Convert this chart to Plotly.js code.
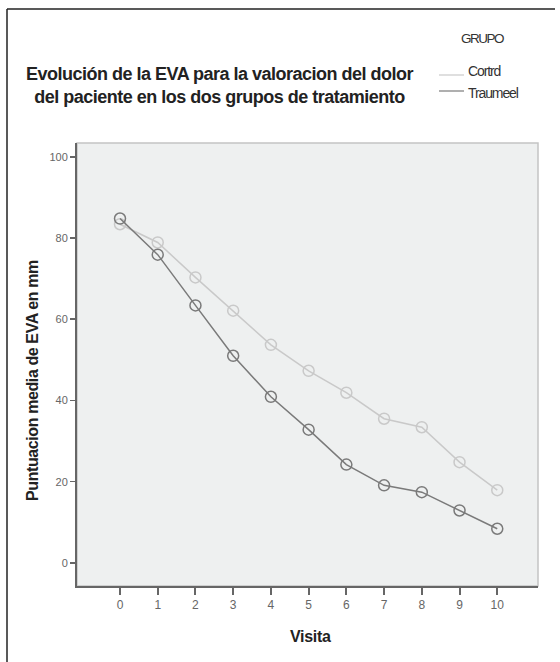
<!DOCTYPE html>
<html>
<head>
<meta charset="utf-8">
<script src="https://cdn.plot.ly/plotly-3.0.1.min.js"></script>
<style>
html,body{margin:0;padding:0;background:#fff;}
#chart{width:560px;height:662px;}
</style>
</head>
<body>
<div id="chart"></div>
<script>
// Data
var visits = [0, 1, 2, 3, 4, 5, 6, 7, 8, 9, 10];
var controlValues = [83.4, 78.9, 70.3, 62.1, 53.7, 47.3, 41.9, 35.5, 33.4, 24.8, 17.9];
var traumeelValues = [84.8, 75.9, 63.4, 51.0, 40.9, 32.8, 24.2, 19.1, 17.4, 12.9, 8.4];
var groupNames = ["Cortrd", "Traumeel"];
var xTickLabels = ["0", "1", "2", "3", "4", "5", "6", "7", "8", "9", "10"];
var yTickValues = [0, 20, 40, 60, 80, 100];

var FONT = "Liberation Sans, Arial, sans-serif";
var lightCol = "#c9c9c9";
var darkCol = "#7a7a7a";

function tight(s, ls){ return '<span style="letter-spacing:' + ls + 'px">' + s + '</span>'; }

var traces = [
  {
    x: visits, y: controlValues, name: groupNames[0], type: "scatter", mode: "lines+markers",
    line: {color: lightCol, width: 1.5},
    marker: {symbol: "circle-open", size: 11, color: lightCol, line: {color: lightCol, width: 1.5}},
    showlegend: false, hoverinfo: "skip"
  },
  {
    x: visits, y: traumeelValues, name: groupNames[1], type: "scatter", mode: "lines+markers",
    line: {color: darkCol, width: 1.5},
    marker: {symbol: "circle-open", size: 11, color: darkCol, line: {color: "#6e6e6e", width: 1.5}},
    showlegend: false, hoverinfo: "skip"
  }
];

var W = 461, H = 443; // plot area size in px
function px(x){ return (x - 77) / W; }
function py(y){ return (586 - y) / H; }

var layout = {
  width: 560, height: 662,
  margin: {l: 77, r: 22, t: 143, b: 76},
  paper_bgcolor: "#ffffff",
  plot_bgcolor: "#eef0f0",
  showlegend: false,
  font: {family: FONT, color: "#555"},
  xaxis: {
    range: [-1.14, 11.08],
    tickvals: visits, ticktext: xTickLabels,
    showgrid: false, zeroline: false,
    showline: true, linecolor: "#666", linewidth: 2,
    ticks: "outside", ticklen: 7, tickwidth: 2, tickcolor: "#666",
    tickfont: {family: FONT, size: 12, color: "#666"}
  },
  yaxis: {
    range: [-5.7, 103.4],
    tickvals: yTickValues,
    showgrid: false, zeroline: false,
    showline: true, linecolor: "#666", linewidth: 2,
    ticks: "outside", ticklen: 5, tickwidth: 1.5, tickcolor: "#666",
    tickfont: {family: FONT, size: 11, color: "#666"}
  },
  shapes: [
    // light frame on top/right of plot area
    {type: "rect", xref: "paper", yref: "paper", x0: 0, x1: 1, y0: 0, y1: 1,
     line: {color: "#c4c4c4", width: 1.5}, layer: "below"},
    // outer figure frame (top and left edges)
    {type: "line", xref: "paper", yref: "paper", x0: px(7), x1: px(555), y0: py(9), y1: py(9),
     line: {color: "#222", width: 1.5}},
    {type: "line", xref: "paper", yref: "paper", x0: px(7), x1: px(7), y0: py(9), y1: py(700),
     line: {color: "#222", width: 1.5}},
    // legend lines
    {type: "line", xref: "paper", yref: "paper", x0: px(439), x1: px(464), y0: py(75), y1: py(75),
     line: {color: lightCol, width: 1.2}},
    {type: "line", xref: "paper", yref: "paper", x0: px(439), x1: px(464), y0: py(91), y1: py(91),
     line: {color: darkCol, width: 1.2}}
  ],
  annotations: [
    {text: tight("Evolución de la EVA para la valoracion del dolor", -0.5) + "<br>" +
           tight("del paciente en los dos grupos de tratamiento", -0.5),
     xref: "paper", yref: "paper", x: px(220), y: py(86), xanchor: "center", yanchor: "middle",
     showarrow: false, align: "center",
     font: {family: FONT, size: 18, color: "#222", weight: "bold"}},
    {text: tight("GRUPO", -1.5), xref: "paper", yref: "paper", x: px(482), y: py(39), xanchor: "center", yanchor: "middle",
     showarrow: false, font: {family: FONT, size: 13.5, color: "#333"}},
    {text: tight(groupNames[0], -1.1), xref: "paper", yref: "paper", x: px(466), y: py(71), xanchor: "left", yanchor: "middle",
     showarrow: false, font: {family: FONT, size: 14, color: "#333"}},
    {text: tight(groupNames[1], -1.1), xref: "paper", yref: "paper", x: px(466), y: py(93), xanchor: "left", yanchor: "middle",
     showarrow: false, font: {family: FONT, size: 14, color: "#333"}},
    {text: tight("Visita", -0.3), xref: "paper", yref: "paper", x: px(310), y: py(636), xanchor: "center", yanchor: "middle",
     showarrow: false, font: {family: FONT, size: 16, color: "#222", weight: "bold"}},
    {text: tight("Puntuacion media de EVA en mm", -0.4), xref: "paper", yref: "paper", x: px(32), y: py(381),
     xanchor: "center", yanchor: "middle", textangle: -90,
     showarrow: false, font: {family: FONT, size: 16, color: "#222", weight: "bold"}}
  ]
};

Plotly.newPlot("chart", traces, layout, {staticPlot: true, displayModeBar: false});
</script>
</body>
</html>
